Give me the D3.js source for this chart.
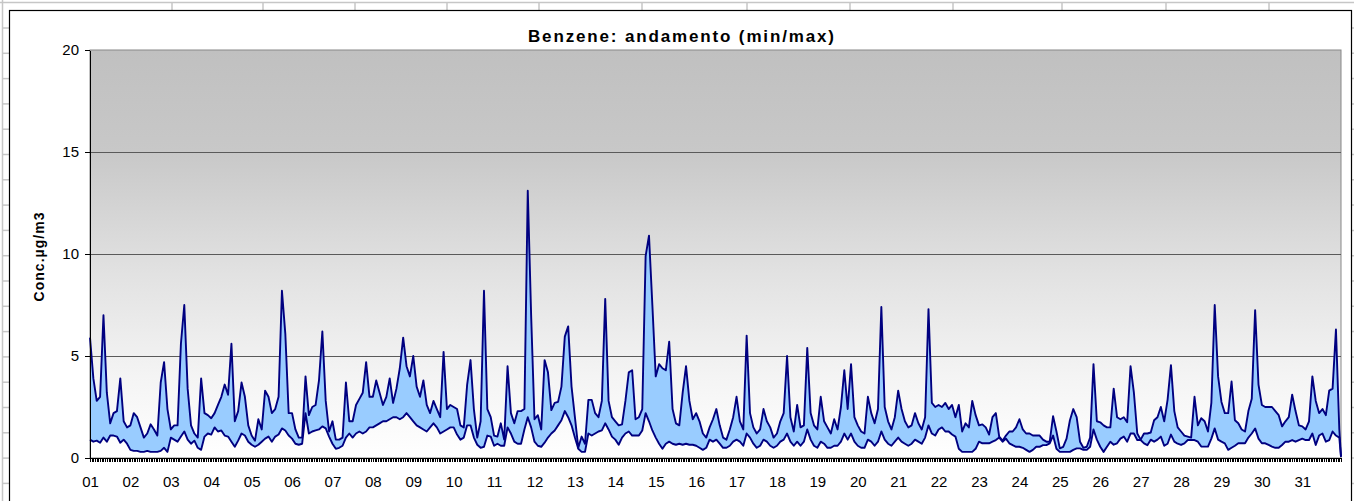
<!DOCTYPE html>
<html>
<head>
<meta charset="utf-8">
<title>Benzene: andamento (min/max)</title>
<style>
  body { margin: 0; background: #fff; }
  svg text { font-family: Arial, "Liberation Sans", sans-serif; fill: #000; }
  .axis path, .axis line { stroke: #000; shape-rendering: crispEdges; }
</style>
<script src="https://d3js.org/d3.v7.min.js"></script>
</head>
<body>
<div id="chart"></div>
<script>
// days of the month (category labels)
var days = ["01","02","03","04","05","06","07","08","09","10","11","12","13","14","15","16",
            "17","18","19","20","21","22","23","24","25","26","27","28","29","30","31"];
var yTicks = [0, 5, 10, 15, 20];

// readings every 2 hours (12 per day), µg/m3
var maxVals = [
  5.9, 3.9, 2.8, 3.0, 7.0, 3.2, 1.7, 2.2, 2.3, 3.9, 1.8, 1.5,
  1.6, 2.2, 2.0, 1.5, 1.0, 1.2, 1.65, 1.4, 1.1, 3.7, 4.7, 2.4,
  1.4, 1.6, 1.6, 5.6, 7.5, 3.4, 1.6, 1.2, 1.0, 3.9, 2.2, 2.1,
  1.95, 2.2, 2.6, 3.0, 3.6, 3.1, 5.6, 1.8, 2.3, 3.7, 3.0, 1.6,
  1.1, 0.85, 1.9, 1.4, 3.3, 3.0, 2.2, 2.4, 3.0, 8.2, 6.1, 2.2,
  2.2, 1.4, 1.0, 1.0, 4.0, 2.1, 2.5, 2.6, 3.8, 6.2, 2.8, 1.3,
  1.8, 0.9, 0.9, 1.0, 3.7, 1.8, 1.8, 2.6, 2.9, 3.2, 4.7, 3.0,
  3.0, 3.8, 3.2, 2.6, 3.0, 3.9, 2.7, 3.4, 4.4, 5.9, 4.5, 4.0,
  5.0, 3.5, 3.0, 3.8, 2.6, 2.2, 2.8, 2.4, 2.0, 5.2, 2.4, 2.6,
  2.5, 2.4, 1.6, 1.5, 3.6, 4.8, 2.4, 1.0, 1.8, 8.2, 2.4, 2.0,
  1.1, 1.05, 1.7, 0.9, 4.5, 2.2, 1.7, 2.3, 2.3, 2.4, 13.1, 7.0,
  1.9, 2.1, 1.4, 4.8, 4.2, 2.35, 2.7, 2.75, 3.5, 5.95, 6.45, 3.5,
  2.0, 0.5, 1.05, 0.7, 2.85, 2.85, 2.2, 2.0, 2.8, 7.8, 2.8, 2.0,
  1.8, 1.6, 1.65, 2.8, 4.2, 4.3, 1.9, 2.0, 2.4, 9.9, 10.9, 7.5,
  4.0, 4.6, 4.4, 4.3, 5.7, 2.4, 1.7, 1.6, 3.2, 4.5, 2.8, 1.9,
  2.2, 1.8, 1.2, 1.0, 1.5, 1.9, 2.4, 1.6, 1.0, 0.9, 1.4, 2.0,
  3.0, 1.8, 1.4, 6.0, 2.2, 1.5, 1.2, 1.4, 2.4, 1.8, 1.5, 1.0,
  1.2, 1.8, 2.2, 5.0, 2.0, 1.3, 2.6, 1.5, 1.6, 5.4, 2.2, 1.6,
  1.4, 3.0, 1.8, 1.5, 1.2, 1.9, 1.4, 2.5, 4.3, 2.4, 4.6, 2.0,
  1.6, 1.3, 1.2, 3.0, 2.2, 1.7, 2.4, 7.4, 2.5, 1.8, 1.4, 2.0,
  3.3, 2.4, 1.8, 1.5, 1.6, 2.2, 1.7, 1.4, 2.0, 7.3, 2.7, 2.5,
  2.6, 2.5, 2.7, 2.4, 2.6, 2.0, 2.6, 1.3, 1.7, 1.5, 2.8, 2.1,
  1.6, 1.65, 1.5, 1.15, 2.0, 2.2, 1.05, 0.85, 1.1, 1.3, 1.3, 1.5,
  1.9, 1.4, 1.2, 1.2, 1.1, 1.1, 1.1, 0.9, 0.8, 0.8, 2.05, 1.3,
  0.47, 0.55, 0.95, 1.85, 2.4, 2.0, 0.8, 0.5, 0.55, 1.0, 4.6, 1.8,
  1.75, 1.6, 1.5, 1.5, 3.4, 2.0, 1.9, 2.0, 1.75, 4.5, 3.2, 1.2,
  0.9, 1.2, 1.2, 1.25, 1.85, 2.0, 2.5, 1.8, 2.85, 4.55, 2.3, 1.5,
  1.3, 1.1, 1.05, 1.0, 3.0, 1.6, 1.95, 1.8, 1.3, 2.7, 7.5, 4.0,
  2.75, 2.2, 2.2, 3.75, 1.85, 1.7, 1.4, 1.3, 2.3, 2.9, 7.25, 3.6,
  2.6, 2.5, 2.5, 2.5, 2.3, 2.1, 1.55, 1.8, 2.0, 3.1, 2.3, 1.6,
  1.55, 1.4, 1.8, 4.0, 2.8, 2.2, 2.4, 2.1, 3.3, 3.4, 6.3, 1.4
];
var minVals = [
  0.9, 0.8, 0.85, 0.75, 1.0, 0.8, 1.1, 1.1, 1.05, 0.75, 0.9, 0.7,
  0.4, 0.35, 0.35, 0.3, 0.3, 0.35, 0.3, 0.3, 0.3, 0.35, 0.5, 0.3,
  1.0, 0.9, 0.8, 1.05, 1.3, 0.9, 0.7, 0.85, 0.5, 0.4, 1.05, 1.2,
  1.15, 1.5, 1.3, 1.35, 1.1, 1.05, 0.8, 0.55, 0.85, 1.2, 1.1, 0.8,
  0.65, 0.55, 0.65, 0.8, 0.95, 1.05, 0.8, 1.05, 1.15, 1.45, 1.35, 1.1,
  0.95, 0.7, 0.65, 0.7, 2.2, 1.2, 1.3, 1.35, 1.4, 1.55, 1.45, 1.05,
  0.7, 0.45, 0.5, 0.6, 1.0, 1.2, 1.0, 1.2, 1.3, 1.2, 1.3, 1.5,
  1.5, 1.6, 1.7, 1.8, 1.8, 1.9, 2.0, 2.0, 1.9, 2.0, 2.2, 2.0,
  1.8, 1.6, 1.5, 1.4, 1.3, 1.5, 1.7, 1.5, 1.2, 1.3, 1.4, 1.5,
  1.5, 1.15, 0.9, 1.0, 1.6, 1.6, 1.0, 0.65, 0.5, 0.55, 1.1, 1.05,
  0.6, 0.7, 0.6, 0.6, 1.5, 1.2, 0.8, 0.7, 0.7, 1.4, 2.0, 1.5,
  0.8, 0.6, 0.55, 0.75, 1.0, 1.2, 1.35, 1.6, 1.85, 2.3, 2.0, 1.6,
  1.0, 0.45, 0.3, 0.3, 1.2, 1.1, 1.2, 1.3, 1.35, 1.7, 1.4, 1.05,
  0.9, 0.65, 1.0, 1.2, 1.3, 1.1, 1.1, 1.1, 1.35, 2.2, 1.8, 1.35,
  1.0, 0.7, 0.45, 0.7, 0.8, 0.7, 0.65, 0.7, 0.65, 0.7, 0.65, 0.65,
  0.6, 0.5, 0.4, 0.5, 0.9, 0.8, 0.9, 0.7, 0.5, 0.5, 0.6, 0.8,
  0.9, 0.8, 0.6, 1.2, 1.0, 0.7, 0.5, 0.6, 0.9, 0.8, 0.6, 0.5,
  0.6, 0.8, 0.9, 1.2, 0.8, 0.6, 0.8, 0.6, 0.8, 1.4, 0.9, 0.6,
  0.5, 0.8, 0.7, 0.5, 0.5, 0.6, 0.6, 0.8, 1.2, 0.9, 1.2, 0.8,
  0.6, 0.5, 0.5, 0.9, 0.8, 0.6, 0.8, 1.3, 0.9, 0.7, 0.6, 0.8,
  1.0, 0.8, 0.7, 0.6, 0.7, 0.9, 0.8, 0.7, 1.0, 1.6, 1.2, 1.1,
  1.4, 1.5, 1.3, 1.3, 1.15, 1.05, 0.45, 0.3, 0.3, 0.3, 0.3, 0.45,
  0.8, 0.72, 0.72, 0.72, 0.8, 0.88, 1.0, 0.8, 0.95, 0.72, 0.63, 0.55,
  0.55, 0.5, 0.4, 0.3, 0.4, 0.55, 0.55, 0.63, 0.63, 0.72, 1.1, 0.45,
  0.3, 0.3, 0.3, 0.3, 0.4, 0.47, 0.47, 0.4, 0.4, 0.55, 1.4, 0.9,
  0.55, 0.3, 0.55, 0.8, 0.65, 0.72, 0.95, 1.05, 0.8, 1.2, 1.2, 0.88,
  0.88, 0.72, 0.63, 0.9, 0.8, 0.9, 1.05, 0.6, 0.7, 1.15, 0.8, 0.7,
  0.64, 0.72, 0.88, 0.88, 0.88, 0.8, 0.56, 0.56, 0.56, 0.95, 1.45, 0.9,
  0.8, 0.72, 0.4, 0.5, 0.6, 0.72, 0.72, 0.72, 1.0, 1.2, 1.45, 0.95,
  0.72, 0.72, 0.64, 0.56, 0.5, 0.5, 0.64, 0.8, 0.8, 0.88, 0.8, 0.88,
  0.95, 0.88, 0.88, 1.2, 0.64, 1.1, 1.2, 0.8, 0.88, 1.3, 1.1, 1.0
];
// final hour of the month (23:00 on day 31)
var lastMax = 0.1, lastMin = 0.05;

var W = 1354, H = 501;
var hoursPerDay = 24, step = 2;
var nHours = days.length * hoursPerDay;

var svg = d3.select("#chart").append("svg")
  .attr("width", W)
  .attr("height", H);

// spreadsheet grid behind the chart
var grid = svg.append("g").attr("stroke", "#c6c6c6").attr("stroke-width", 1.5);
grid.append("line").attr("x1", 0).attr("x2", W).attr("y1", 2.5).attr("y2", 2.5);
grid.append("line").attr("x1", 2.5).attr("x2", 2.5).attr("y1", 0).attr("y2", H);
[172, 263, 355, 447, 539, 642, 747, 850, 953, 1062, 1166, 1269].forEach(function(cx) {
  grid.append("line").attr("x1", cx).attr("x2", cx).attr("y1", 2).attr("y2", 10);
});
for (var ry = 28; ry < H; ry += 25.3) {
  grid.append("line").attr("x1", 2).attr("x2", 9).attr("y1", ry).attr("y2", ry);
  grid.append("line").attr("x1", 1352).attr("x2", W).attr("y1", ry).attr("y2", ry);
}

// chart area
svg.append("rect")
  .attr("x", 9.5).attr("y", 10.5)
  .attr("width", 1342).attr("height", 520)
  .attr("fill", "#fff")
  .attr("stroke", "#000")
  .attr("stroke-width", 1.2);

var margin = {top: 50, left: 90, right: 1341, bottom: 458};

var x = d3.scaleLinear()
  .domain([0, nHours - 1])
  .range([margin.left, margin.right]);

var y = d3.scaleLinear()
  .domain([0, 20])
  .range([margin.bottom, margin.top]);

// plot area background gradient
var defs = svg.append("defs");
var grad = defs.append("linearGradient")
  .attr("id", "plotBg")
  .attr("x1", 0).attr("x2", 0).attr("y1", 0).attr("y2", 1);
grad.append("stop").attr("offset", "0%").attr("stop-color", "#c0c0c0");
grad.append("stop").attr("offset", "25%").attr("stop-color", "#c8c8c8");
grad.append("stop").attr("offset", "55%").attr("stop-color", "#e2e2e2");
grad.append("stop").attr("offset", "80%").attr("stop-color", "#f4f4f4");
grad.append("stop").attr("offset", "100%").attr("stop-color", "#ffffff");

svg.append("rect")
  .attr("x", margin.left).attr("y", margin.top)
  .attr("width", margin.right - margin.left)
  .attr("height", margin.bottom - margin.top)
  .attr("fill", "url(#plotBg)")
  .attr("stroke", "#888")
  .attr("stroke-width", 1);

// horizontal gridlines
svg.append("g")
  .selectAll("line")
  .data(yTicks.filter(function(t) { return t > 0 && t < 20; }))
  .enter().append("line")
  .attr("x1", margin.left).attr("x2", margin.right)
  .attr("y1", function(d) { return Math.round(y(d)) + 0.5; })
  .attr("y2", function(d) { return Math.round(y(d)) + 0.5; })
  .attr("stroke", "#5a5a5a")
  .attr("stroke-width", 1);

// series
var pts = maxVals.map(function(v, i) {
  return {h: i * step, max: v, min: minVals[i]};
});
pts.push({h: nHours - 1, max: lastMax, min: lastMin});

var area = d3.area()
  .x(function(d) { return x(d.h); })
  .y0(function(d) { return y(d.min); })
  .y1(function(d) { return y(d.max); });

var lineMax = d3.line()
  .x(function(d) { return x(d.h); })
  .y(function(d) { return y(d.max); });

var lineMin = d3.line()
  .x(function(d) { return x(d.h); })
  .y(function(d) { return y(d.min); });

svg.append("path")
  .datum(pts)
  .attr("d", area)
  .attr("fill", "#99ccff");

svg.append("path")
  .datum(pts)
  .attr("d", lineMin)
  .attr("fill", "none")
  .attr("stroke", "#000080")
  .attr("stroke-width", 1.9)
  .attr("stroke-linejoin", "round");

svg.append("path")
  .datum(pts)
  .attr("d", lineMax)
  .attr("fill", "none")
  .attr("stroke", "#000080")
  .attr("stroke-width", 1.9)
  .attr("stroke-linejoin", "round");

// y axis
var yAxis = d3.axisLeft(y)
  .tickValues(yTicks)
  .tickSize(5)
  .tickSizeOuter(0)
  .tickPadding(6);

svg.append("g")
  .attr("class", "axis")
  .attr("transform", "translate(" + margin.left + ",0)")
  .call(yAxis)
  .selectAll("text")
  .attr("font-size", "15px");

// x axis: hourly tick marks
var xTicks = d3.axisBottom(x)
  .tickValues(d3.range(nHours))
  .tickSize(4)
  .tickSizeOuter(0)
  .tickFormat("");

svg.append("g")
  .attr("class", "axis")
  .attr("transform", "translate(0," + margin.bottom + ")")
  .call(xTicks);

// x axis: day labels
var xLabels = d3.axisBottom(x)
  .tickValues(days.map(function(d, i) { return i * hoursPerDay; }))
  .tickSize(0)
  .tickPadding(18)
  .tickFormat(function(d, i) { return days[i]; });

var xl = svg.append("g")
  .attr("transform", "translate(0," + margin.bottom + ")")
  .call(xLabels);
xl.select(".domain").remove();
xl.selectAll("text").attr("font-size", "15px");

// titles
svg.append("text")
  .attr("x", 681)
  .attr("y", 42)
  .attr("text-anchor", "middle")
  .attr("font-size", "17px")
  .attr("font-weight", "bold")
  .attr("textLength", 306)
  .attr("lengthAdjust", "spacing")
  .text("Benzene: andamento (min/max)");

svg.append("text")
  .attr("transform", "translate(43.5," + ((margin.top + margin.bottom) / 2 + 3) + ") rotate(-90)")
  .attr("text-anchor", "middle")
  .attr("font-size", "14px")
  .attr("font-weight", "bold")
  .attr("textLength", 89)
  .attr("lengthAdjust", "spacing")
  .text("Conc.µg/m3");
</script>
</body>
</html>
